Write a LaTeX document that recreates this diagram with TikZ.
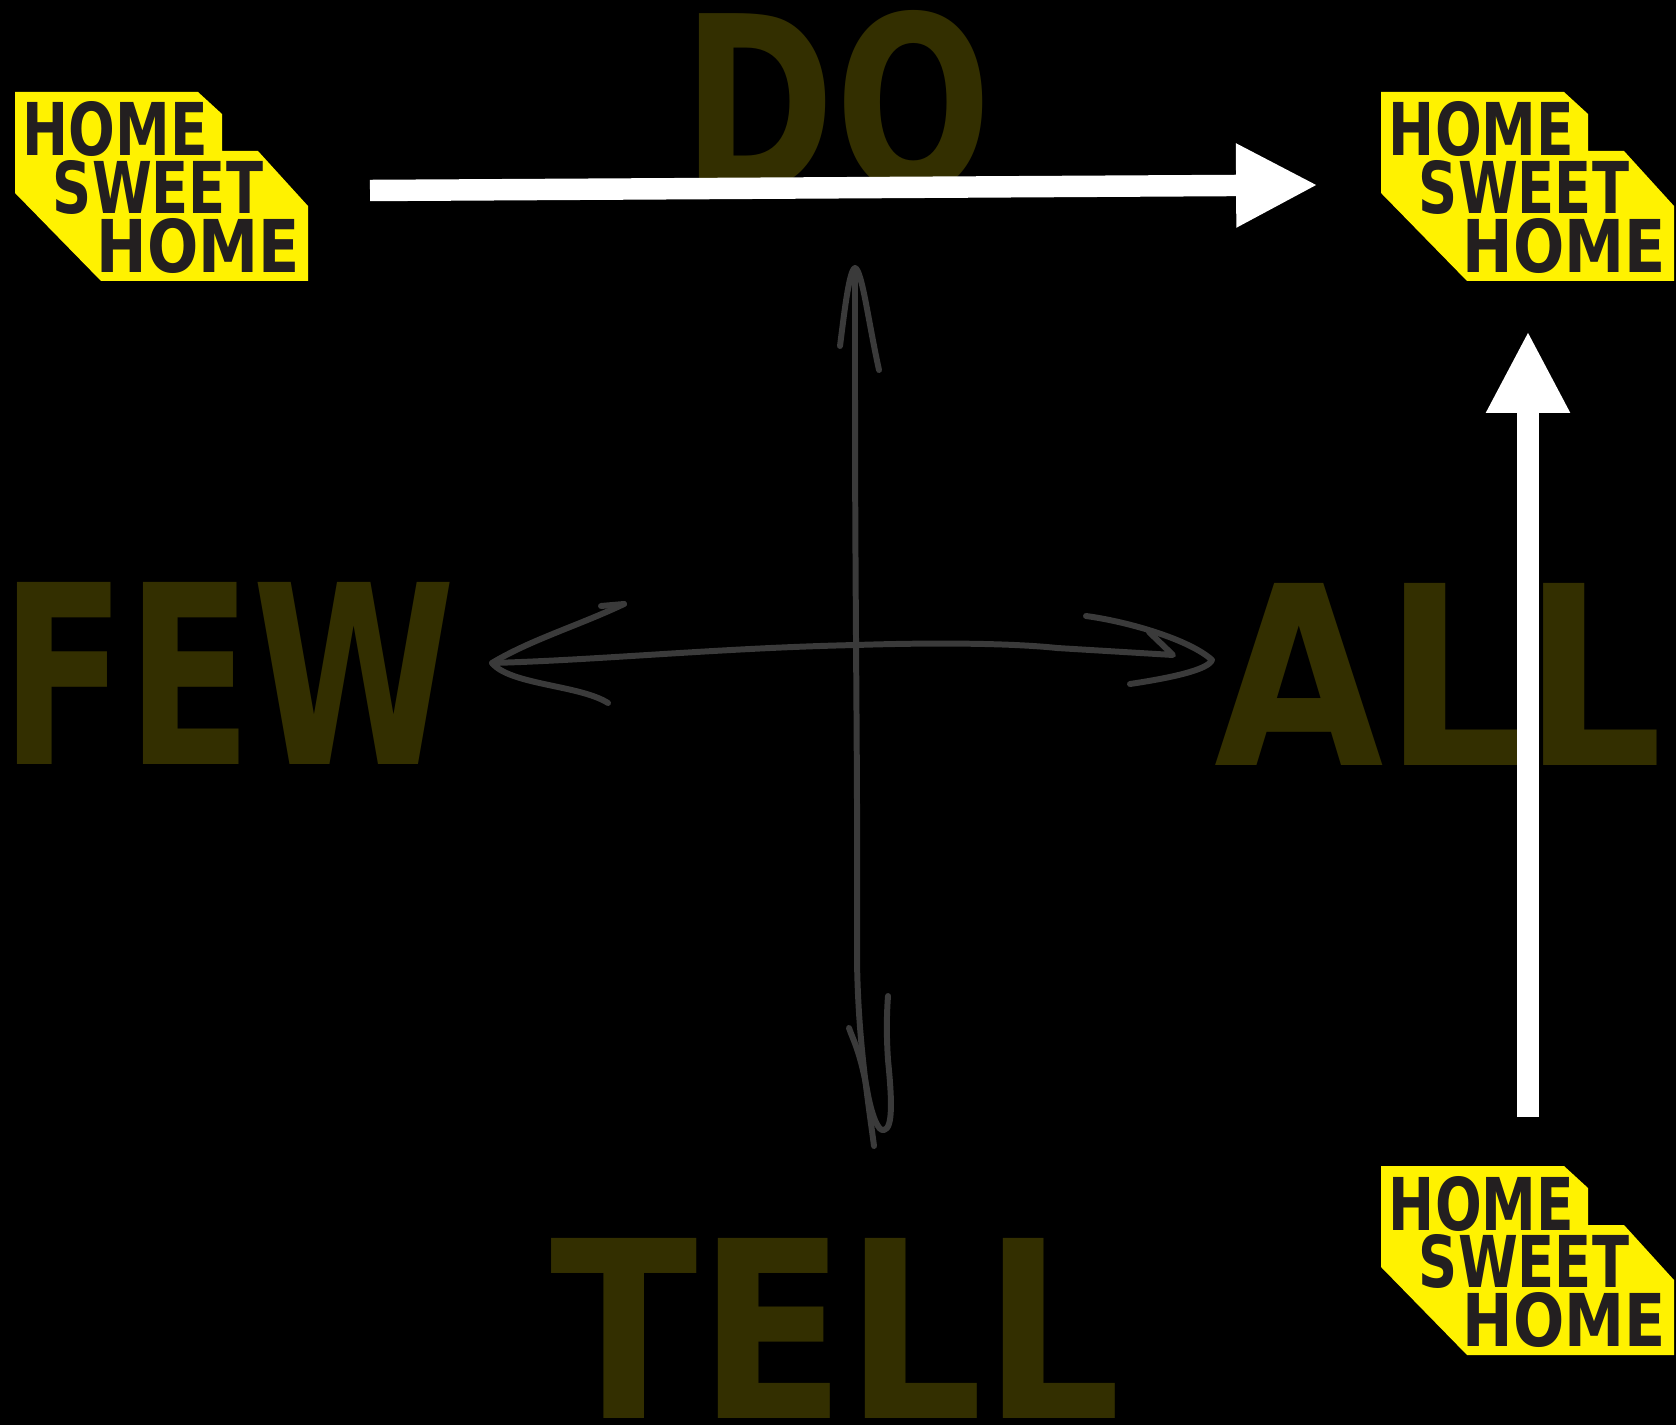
\documentclass[tikz,border=0pt]{standalone}
\usepackage{fontspec}
\setmainfont{DejaVu Sans}
\usetikzlibrary{arrows.meta}
\definecolor{signyellow}{HTML}{FFF200}
\definecolor{signink}{HTML}{231F20}
\definecolor{wordolive}{HTML}{332F00}
\definecolor{sketchgray}{HTML}{3A3A3A}
\tikzset{
    bigword/.style={inner sep=0pt, text=wordolive, font=\bfseries},
    signword/.style={inner sep=0pt, text=signink, font=\bfseries},
    sketchline/.style={draw=sketchgray, line width=1.7pt, line cap=round, line join=round},
    whitearrow/.style={draw=white, line width=6.1pt, -{Triangle[length=23.3pt, width=22.2pt]}}
}
\begin{document}
\begin{tikzpicture}[x=0.01cm, y=-0.01cm]
    \fill[black] (0,0) rectangle (1676,1425);
    \useasboundingbox (0,0) rectangle (1676,1425);
    % Axis words
    \node[bigword] (doword) at (837.5,102) {\resizebox{3.09cm}{1.80cm}{DO}};
    \node[bigword] (fewword) at (228,673) {\resizebox{4.55cm}{1.82cm}{FEW}};
    \node[bigword] (allword) at (1439,674) {\resizebox{4.48cm}{1.82cm}{ALL}};
    \node[bigword] (tellword) at (836,1328) {\resizebox{5.70cm}{1.80cm}{TELL}};
    % Hand drawn vertical axis
    \draw[sketchline] (855,400) .. controls (855,350) and (855,300) .. (855,270);
    \draw[sketchline] (840,346) .. controls (844,315) and (849,270) .. (855,268) .. controls (862,270) and (868,320) .. (879,370);
    \draw[sketchline] (855,400) .. controls (855,600) and (858,800) .. (857,960) .. controls (858,1040) and (868,1100) .. (874,1146);
    \draw[sketchline] (849,1028) .. controls (853,1040) and (860,1050) .. (868,1095) .. controls (872,1115) and (878,1132) .. (884,1130) .. controls (893,1128) and (892,1100) .. (888,1060) .. controls (886,1030) and (887,1010) .. (888,996);
    % Hand drawn horizontal axis
    \draw[sketchline] (492,663) .. controls (600,660) and (720,648) .. (856,645) .. controls (950,642) and (1020,644) .. (1057,648) -- (1173,655) -- (1149,632);
    \draw[sketchline] (624,604) -- (601,606);
    \draw[sketchline] (624,604) .. controls (580,625) and (530,640) .. (492,663) .. controls (510,685) and (580,685) .. (608,703);
    \draw[sketchline] (1086,616) .. controls (1130,622) and (1190,640) .. (1212,660) .. controls (1208,670) and (1170,678) .. (1130,684);
    % Home signs
    \foreach \signname/\signx/\signy in {topleft/0/0, topright/1366/0, bottomright/1366/1074} {
        \begin{scope}[shift={(\signx,\signy)}]
            \fill[signyellow] (15,92) -- (198,92) -- (222,114) -- (222,151) -- (258,151) -- (308,206) -- (308,281) -- (101,281) -- (15,193) -- cycle;
            \node[signword] (home\signname a) at (115.5,129.5) {\resizebox{1.85cm}{.54cm}{HOME}};
            \node[signword] (sweet\signname) at (158,187.5) {\resizebox{2.10cm}{.53cm}{SWEET}};
            \node[signword] (home\signname b) at (198.5,246) {\resizebox{2.03cm}{.54cm}{HOME}};
        \end{scope}
    }
    % White arrows between the signs
    \coordinate (topstart) at (370,190.5);
    \coordinate (topend) at (1318,185);
    \coordinate (rightstart) at (1528,1117);
    \coordinate (rightend) at (1528,331);
    \draw[whitearrow] (topstart) -- (topend);
    \draw[whitearrow] (rightstart) -- (rightend);
\end{tikzpicture}
\end{document}
